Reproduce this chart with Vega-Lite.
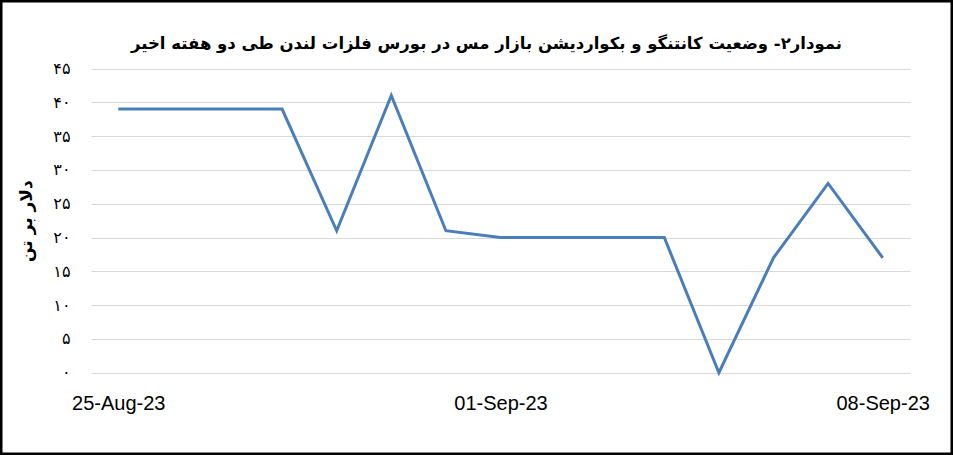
{
  "$schema": "https://vega.github.io/schema/vega-lite/v6.json",
  "width": 951,
  "height": 453,
  "padding": 1,
  "autosize": "none",
  "background": "white",
  "title": {
    "text": "نمودار۲- وضعیت کانتنگو و بکواردیشن بازار مس در بورس فلزات لندن طی دو هفته اخیر",
    "font": "DejaVu Sans",
    "fontSize": 16.5,
    "fontWeight": "bold",
    "color": "black",
    "anchor": "middle",
    "frame": "group",
    "baseline": "alphabetic",
    "orient": "top",
    "offset": -64,
    "dx": 10
  },
  "data": {
    "values": [
      {"date": "2023/08/25", "value": 39},
      {"date": "2023/08/26", "value": 39},
      {"date": "2023/08/27", "value": 39},
      {"date": "2023/08/28", "value": 39},
      {"date": "2023/08/29", "value": 21},
      {"date": "2023/08/30", "value": 41},
      {"date": "2023/08/31", "value": 21},
      {"date": "2023/09/01", "value": 20},
      {"date": "2023/09/02", "value": 20},
      {"date": "2023/09/03", "value": 20},
      {"date": "2023/09/04", "value": 20},
      {"date": "2023/09/05", "value": 0},
      {"date": "2023/09/06", "value": 17},
      {"date": "2023/09/07", "value": 28},
      {"date": "2023/09/08", "value": 17}
    ]
  },
  "mark": {"type": "line", "color": "#4A7EBB", "strokeWidth": 3, "strokeJoin": "miter"},
  "encoding": {
    "x": {
      "field": "date",
      "type": "temporal",
      "scale": {
        "domain": [
          {"year": 2023, "month": "aug", "date": 24, "hours": 12},
          {"year": 2023, "month": "sep", "date": 8, "hours": 12}
        ],
        "range": [90, 909]
      },
      "axis": {
        "values": [
          {"year": 2023, "month": "aug", "date": 25},
          {"year": 2023, "month": "sep", "date": 1},
          {"year": 2023, "month": "sep", "date": 8}
        ],
        "format": "%d-%b-%y",
        "title": null,
        "grid": false,
        "domain": false,
        "ticks": false,
        "tickSize": 0,
        "labelPadding": 0,
        "labelBaseline": "top",
        "labelFont": "Liberation Sans",
        "labelFontSize": 20,
        "labelColor": "black",
        "labelOverlap": false,
        "offset": -61
      }
    },
    "y": {
      "field": "value",
      "type": "quantitative",
      "scale": {"domain": [0, 45], "range": [371.7, 67.5], "nice": false},
      "axis": {
        "values": [0, 5, 10, 15, 20, 25, 30, 35, 40, 45],
        "labelExpr": "datum.value == 0 ? '۰' : datum.value == 5 ? '۵' : datum.value == 10 ? '۱۰' : datum.value == 15 ? '۱۵' : datum.value == 20 ? '۲۰' : datum.value == 25 ? '۲۵' : datum.value == 30 ? '۳۰' : datum.value == 35 ? '۳۵' : datum.value == 40 ? '۴۰' : '۴۵'",
        "title": "دلار بر تن",
        "titleFont": "DejaVu Sans",
        "titleFontSize": 17,
        "titleFontWeight": "bold",
        "titleColor": "black",
        "titlePadding": 17,
        "grid": true,
        "gridColor": "#D9D9D9",
        "gridWidth": 1,
        "domain": false,
        "ticks": false,
        "tickSize": 0,
        "labelPadding": 0,
        "labelFont": "DejaVu Sans",
        "labelFontSize": 16,
        "labelColor": "black",
        "offset": -69
      }
    }
  },
  "config": {
    "view": {"stroke": "black", "strokeWidth": 3}
  }
}
